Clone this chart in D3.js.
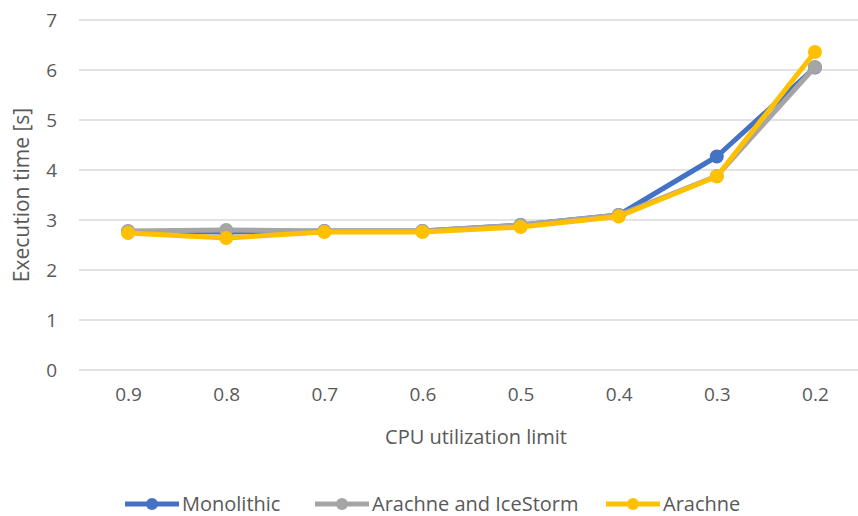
<!DOCTYPE html>
<html>
<head>
<meta charset="utf-8">
<script src="https://cdn.jsdelivr.net/npm/d3@7"></script>
<style>
  html, body { margin: 0; padding: 0; background: #fff; }
  svg { display: block; font-family: "Open Sans", "Noto Sans", sans-serif; }
</style>
</head>
<body>
<svg id="chart" width="858" height="516"></svg>
<script>
// CPU utilization limits on the x axis
const categories = ["0.9", "0.8", "0.7", "0.6", "0.5", "0.4", "0.3", "0.2"];
const yTicks = [0, 1, 2, 3, 4, 5, 6, 7];

// Execution time [s] per configuration
const monolithic = [2.77, 2.76, 2.78, 2.78, 2.9, 3.1, 4.27, 6.05];
const arachneIceStorm = [2.78, 2.8, 2.78, 2.78, 2.9, 3.1, 3.88, 6.06];
const arachne = [2.74, 2.64, 2.76, 2.76, 2.86, 3.07, 3.87, 6.36];

const seriesNames = ["Monolithic", "Arachne and IceStorm", "Arachne"];
const seriesColors = ["#4472C4", "#A5A5A5", "#FFC000"];
const seriesValues = [monolithic, arachneIceStorm, arachne];

const svg = d3.select("#chart");
const textColor = "#595959";
const font = "'Open Sans', 'Noto Sans', sans-serif";

const x = d3.scalePoint().domain(categories).range([79, 864]).padding(0.5);
const y = d3.scaleLinear().domain([0, 7]).range([370, 20]);

// Horizontal gridlines
svg.append("g")
  .selectAll("line")
  .data(yTicks)
  .join("line")
  .attr("x1", 79).attr("x2", 864)
  .attr("y1", d => y(d)).attr("y2", d => y(d))
  .attr("stroke", "#D9D9D9").attr("stroke-width", 1.5);

// Y axis labels
const yAxis = svg.append("g")
  .attr("transform", "translate(57,0)")
  .call(d3.axisLeft(y).tickValues(yTicks).tickSize(0).tickPadding(0).tickFormat(d3.format("d")));
yAxis.select(".domain").remove();
yAxis.selectAll("text")
  .attr("fill", textColor).style("font-size", "19px").style("font-family", font);

// X axis labels
const xAxis = svg.append("g")
  .attr("transform", "translate(0,387)")
  .call(d3.axisBottom(x).tickSize(0).tickPadding(0));
xAxis.select(".domain").remove();
xAxis.selectAll("text")
  .attr("fill", textColor).style("font-size", "19px").style("font-family", font);

// Axis titles
svg.append("text")
  .attr("x", 476).attr("y", 437)
  .attr("dy", "0.35em")
  .attr("text-anchor", "middle")
  .attr("fill", textColor).style("font-size", "20px")
  .text("CPU utilization limit");

svg.append("text")
  .attr("transform", "translate(22,195) rotate(-90)")
  .attr("dy", "0.35em")
  .attr("text-anchor", "middle")
  .attr("fill", textColor).style("font-size", "21px")
  .text("Execution time [s]");

// Series lines and markers
const line = d3.line()
  .x((d, i) => x(categories[i]))
  .y(d => y(d));

seriesValues.forEach((vals, s) => {
  const g = svg.append("g");
  g.append("path")
    .datum(vals)
    .attr("d", line)
    .attr("fill", "none")
    .attr("stroke", seriesColors[s])
    .attr("stroke-width", 5)
    .attr("stroke-linejoin", "round");
  g.selectAll("circle")
    .data(vals)
    .join("circle")
    .attr("cx", (d, i) => x(categories[i]))
    .attr("cy", d => y(d))
    .attr("r", 7)
    .attr("fill", seriesColors[s]);
});

// Legend
const legendX = [125, 315, 606];
const legend = svg.append("g");
seriesNames.forEach((name, s) => {
  const item = legend.append("g").attr("transform", `translate(${legendX[s]},504)`);
  item.append("line")
    .attr("x1", 0).attr("x2", 54).attr("y1", 0).attr("y2", 0)
    .attr("stroke", seriesColors[s]).attr("stroke-width", 5);
  item.append("circle")
    .attr("cx", 27).attr("cy", 0).attr("r", 6)
    .attr("fill", seriesColors[s]);
  item.append("text")
    .attr("x", 57).attr("y", 0).attr("dy", "0.35em")
    .attr("fill", textColor).style("font-size", "20px")
    .text(name);
});
</script>
</body>
</html>
